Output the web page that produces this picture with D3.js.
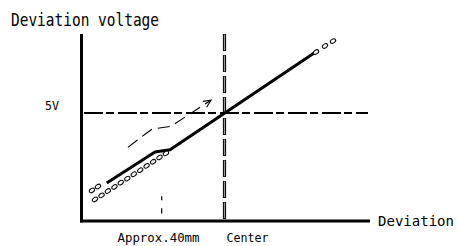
<!DOCTYPE html>
<html>
<head>
<meta charset="utf-8">
<script src="https://cdn.jsdelivr.net/npm/d3@7"></script>
<style>
  body { margin: 0; background: #fff; }
  svg { display: block; }
</style>
</head>
<body>
<div id="chart"></div>
<script>
// deviation in mm (0 = center), voltage in V
const xDomain = [-91.4, 91.4];
const yDomain = [0, 8.62];
const refVoltage = 5;
const approxPos = -40;
const xTickValues = [approxPos, 0];
const xTickLabels = ["Approx.40mm", "Center"];
const yTickValues = [refVoltage];
const yTickLabels = ["5V"];

const mainLine = [[-75.0, 1.74], [-44.3, 3.18], [-34.7, 3.29], [58.3, 7.84]];
const arrowLine = [[-61.5, 3.40], [-50.6, 4.01], [-46.2, 4.24], [-34.1, 4.38], [-8.6, 5.59]];
const lowerDots = [[-82.5, 0.98], [-78.3, 1.17], [-74.3, 1.37], [-70.1, 1.56], [-66.1, 1.76],
                   [-61.9, 1.95], [-57.8, 2.15], [-53.7, 2.34], [-49.6, 2.54], [-45.5, 2.73],
                   [-41.4, 2.93], [-37.3, 3.12]];
const leftDots = [[-84.4, 1.40], [-80.6, 1.58]];
const upperDots = [[58.3, 7.83], [64.0, 8.11], [69.1, 8.34]];

const width = 459, height = 246;

const svg = d3.select('#chart').append('svg')
    .attr('width', width)
    .attr('height', height);

const x = d3.scaleLinear().domain(xDomain).range([81, 368]);
const y = d3.scaleLinear().domain(yDomain).range([220.5, 35]);

svg.append('defs').append('marker')
    .attr('id', 'arrow')
    .attr('markerUnits', 'userSpaceOnUse')
    .attr('viewBox', '-10 -6 12 12')
    .attr('refX', 0).attr('refY', 0)
    .attr('markerWidth', 12).attr('markerHeight', 12)
    .attr('orient', 'auto')
    .append('path')
    .attr('d', 'M-7.5,-3.5 L0,0 L-7.5,3.5')
    .attr('fill', 'none')
    .attr('stroke', '#000')
    .attr('stroke-width', 1.1);

// 5V reference line (dash-dot)
svg.append('line')
    .attr('x1', x(xDomain[0])).attr('x2', x(xDomain[1]))
    .attr('y1', y(refVoltage)).attr('y2', y(refVoltage))
    .attr('stroke', '#000')
    .attr('stroke-width', 2)
    .attr('stroke-dasharray', '19,3,8,4')
    .attr('stroke-dashoffset', -3);

// center line (double dashed)
const centerLine = svg.append('g');
centerLine.append('line')
    .attr('x1', x(0)).attr('x2', x(0))
    .attr('y1', y(8.67)).attr('y2', y(0))
    .attr('stroke', '#000')
    .attr('stroke-width', 3.2)
    .attr('stroke-dasharray', '17,4');
centerLine.append('line')
    .attr('x1', x(0)).attr('x2', x(0))
    .attr('y1', y(8.67) + 0.6).attr('y2', y(0))
    .attr('stroke', '#999')
    .attr('stroke-width', 1.2)
    .attr('stroke-dasharray', '15.8,5.2');

// approx 40mm marker
svg.append('line')
    .attr('x1', x(approxPos)).attr('x2', x(approxPos))
    .attr('y1', y(1.13)).attr('y2', y(0.33))
    .attr('stroke', '#000')
    .attr('stroke-width', 1.2)
    .attr('stroke-dasharray', '4,8,6');

const line = d3.line().x(d => x(d[0])).y(d => y(d[1]));

// dashed arrow
svg.append('path')
    .attr('d', line(arrowLine))
    .attr('fill', 'none')
    .attr('stroke', '#000')
    .attr('stroke-width', 1.1)
    .attr('stroke-dasharray', '12,6')
    .attr('marker-end', 'url(#arrow)');

// main characteristic line
svg.append('path')
    .attr('d', line(mainLine))
    .attr('fill', 'none')
    .attr('stroke', '#000')
    .attr('stroke-width', 3)
    .attr('stroke-linejoin', 'round');

// hollow dots
svg.append('g').selectAll('ellipse')
    .data(lowerDots.concat(leftDots, upperDots))
    .enter()
    .append('ellipse')
    .attr('transform', d => `translate(${x(d[0])},${y(d[1])}) rotate(-33)`)
    .attr('rx', 2.9)
    .attr('ry', 1.9)
    .attr('fill', '#fff')
    .attr('stroke', '#000')
    .attr('stroke-width', 1);

// axes
const font = 'DejaVu Sans Mono';

const xAxis = svg.append('g')
    .attr('transform', `translate(0,${y(0)})`)
    .call(d3.axisBottom(x).tickValues(xTickValues).tickSize(0).tickSizeOuter(0)
        .tickFormat((d, i) => xTickLabels[i]));
const yAxis = svg.append('g')
    .attr('transform', `translate(${x(xDomain[0])},0)`)
    .call(d3.axisLeft(y).tickValues(yTickValues).tickSize(0).tickSizeOuter(0)
        .tickFormat((d, i) => yTickLabels[i]));

[xAxis, yAxis].forEach(a => {
    a.select('.domain')
        .attr('stroke', '#000')
        .attr('stroke-width', 3)
        .attr('stroke-linecap', 'square');
    a.selectAll('text')
        .attr('font-family', font)
        .attr('font-size', 13)
        .attr('fill', '#000')
        .attr('dy', null)
        .attr('lengthAdjust', 'spacingAndGlyphs');
});

const xLabelShift = [-44.7, 1.5];
const xLabelLen = [82, 42];
xAxis.selectAll('text')
    .attr('text-anchor', 'start')
    .attr('y', 21.5)
    .attr('x', (d, i) => xLabelShift[i])
    .attr('textLength', (d, i) => xLabelLen[i]);

yAxis.selectAll('text')
    .attr('x', -22)
    .attr('y', -3)
    .attr('textLength', 14);

// titles
svg.append('text')
    .attr('x', 11).attr('y', 26)
    .attr('font-family', font)
    .attr('font-size', 17)
    .attr('textLength', 148)
    .attr('lengthAdjust', 'spacingAndGlyphs')
    .text('Deviation voltage');

svg.append('text')
    .attr('x', 378).attr('y', 226)
    .attr('font-family', font)
    .attr('font-size', 14.5)
    .attr('textLength', 76)
    .attr('lengthAdjust', 'spacingAndGlyphs')
    .text('Deviation');
</script>
</body>
</html>
